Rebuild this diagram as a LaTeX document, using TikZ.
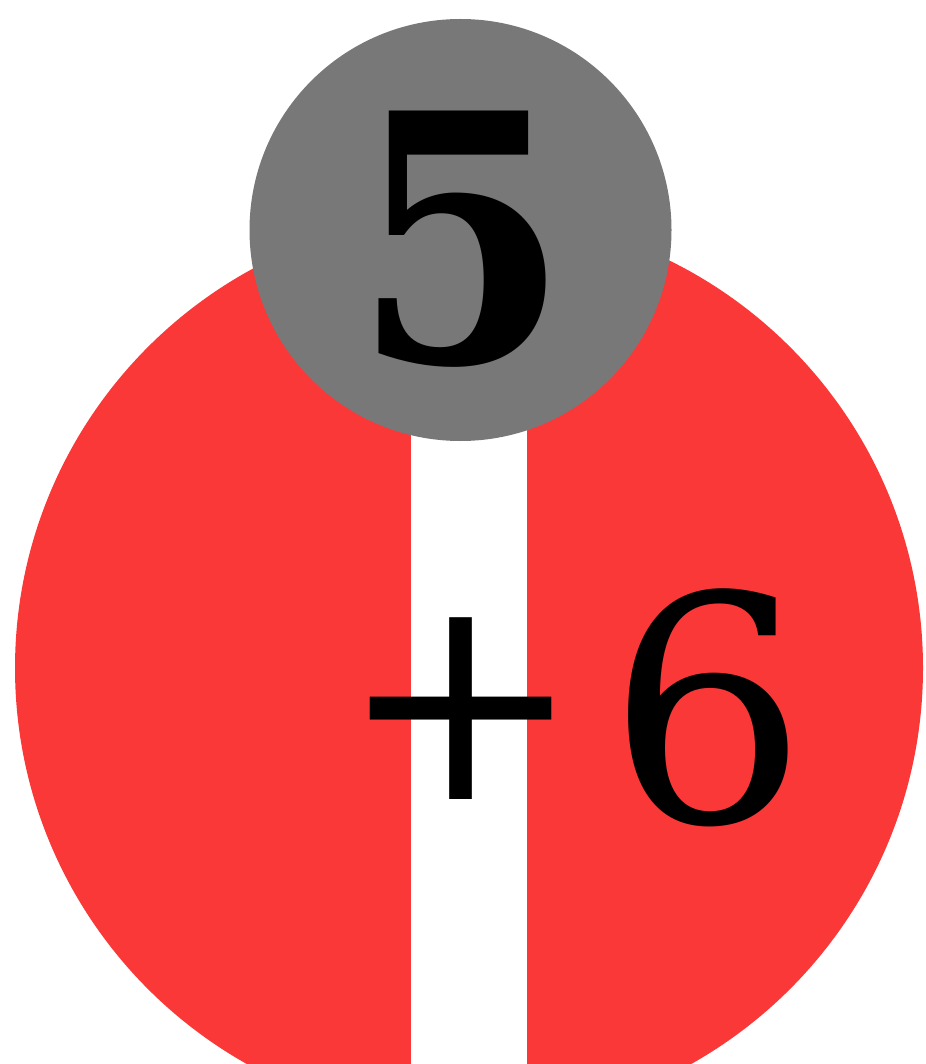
\documentclass[tikz,border=0pt]{standalone}
\usepackage{fontspec}
\setmainfont{DejaVu Serif}
\definecolor{redc}{RGB}{251,56,56}
\definecolor{greyc}{RGB}{120,120,120}
\tikzset{
  digit/.style={inner sep=0pt, text=black},
}
\begin{document}
\begin{tikzpicture}[x=1pt,y=-1pt]
\useasboundingbox (0,0) rectangle (925,1064);
\clip (0,0) rectangle (925,1064);
\fill[redc] (469,668) circle[radius=454];
\fill[white] (411,300) rectangle (527,1070);
\fill[greyc] (460.5,230) circle[radius=211];
\node[digit, anchor=base, xscale=0.9, transform shape, font=\bfseries\fontsize{345}{345}\selectfont] (five) at (462,362) {5};
\node[digit, anchor=base east, font=\fontsize{315}{315}\selectfont] (plussix) at (808,822) {\raisebox{23pt}{\fontsize{290}{290}\selectfont +}\kern25pt 6};
\end{tikzpicture}
\end{document}
